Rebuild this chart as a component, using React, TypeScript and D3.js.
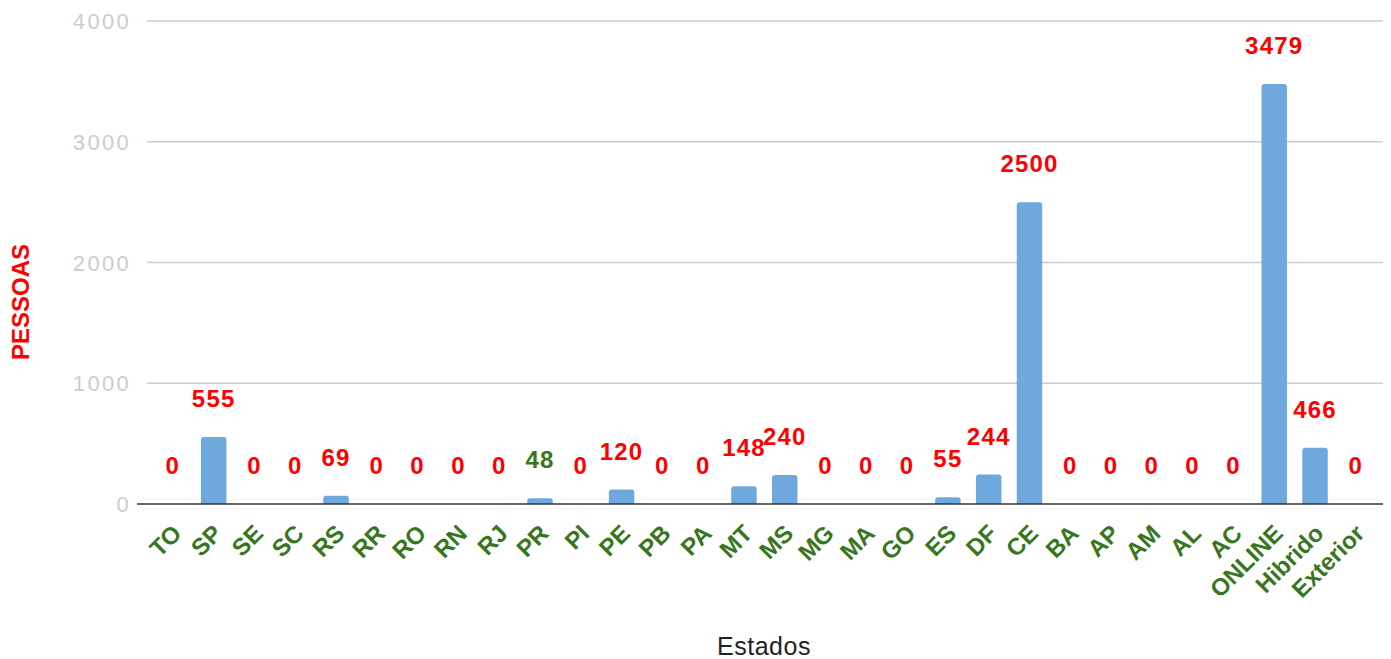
import { useRef, useEffect } from "react"
import * as d3 from "d3"

const categories = [
  "TO", "SP", "SE", "SC", "RS", "RR", "RO", "RN", "RJ", "PR", "PI", "PE", "PB", "PA", "MT",
  "MS", "MG", "MA", "GO", "ES", "DF", "CE", "BA", "AP", "AM", "AL", "AC", "ONLINE", "Hibrido", "Exterior",
]
const values = [
  0, 555, 0, 0, 69, 0, 0, 0, 0, 48, 0, 120, 0, 0, 148,
  240, 0, 0, 0, 55, 244, 2500, 0, 0, 0, 0, 0, 3479, 466, 0,
]
const yTicks = [0, 1000, 2000, 3000, 4000]
const greenLabels = ["PR"]

const W = 1391
const H = 659

const App = () => {
  const svgRef = useRef<SVGSVGElement>(null)

  useEffect(() => {
    const svg = d3.select(svgRef.current)
    svg.selectAll("*").remove()

    const x = d3
      .scaleBand<string>()
      .domain(categories)
      .range([152.5, 1376.2])
      .paddingInner(0.375)
      .paddingOuter(0.1875)
    const y = d3.scaleLinear().domain([0, 4000]).range([504, 21])

    // gridlines
    svg
      .append("g")
      .selectAll("line")
      .data(yTicks.filter((t) => t !== 0))
      .enter()
      .append("line")
      .attr("x1", 147)
      .attr("x2", 1383)
      .attr("y1", (d) => y(d))
      .attr("y2", (d) => y(d))
      .attr("stroke", "#cccccc")
      .attr("stroke-width", 1.5)

    // y tick labels
    svg
      .append("g")
      .selectAll("text")
      .data(yTicks)
      .enter()
      .append("text")
      .attr("x", 131)
      .attr("y", (d) => y(d) + 8)
      .attr("text-anchor", "end")
      .style("font-family", "'Liberation Sans', Arial, sans-serif")
      .style("font-size", "22px")
      .style("letter-spacing", "2.3px")
      .style("fill", "#cccccc")
      .text((d) => d)

    // bars with rounded tops
    const r = 3
    svg
      .append("g")
      .selectAll("path")
      .data(categories.filter((c, i) => values[i] > 0))
      .enter()
      .append("path")
      .attr("d", (c) => {
        const v = values[categories.indexOf(c)]
        const x0 = x(c)!
        const bw = x.bandwidth()
        const top = y(v)
        const bottom = y(0)
        const rr = Math.min(r, (bottom - top) / 2)
        return `M${x0},${bottom}V${top + rr}Q${x0},${top} ${x0 + rr},${top}H${x0 + bw - rr}Q${x0 + bw},${top} ${x0 + bw},${top + rr}V${bottom}Z`
      })
      .attr("fill", "#6fa8dc")

    // zero line
    svg
      .append("line")
      .attr("x1", 137)
      .attr("x2", 1383)
      .attr("y1", y(0))
      .attr("y2", y(0))
      .attr("stroke", "#333333")
      .attr("stroke-width", 1.5)

    // value labels
    svg
      .append("g")
      .selectAll("text")
      .data(categories)
      .enter()
      .append("text")
      .attr("x", (d) => x(d)! + x.bandwidth() / 2)
      .attr("y", (d, i) => y(values[i]) - 30)
      .attr("text-anchor", "middle")
      .style("font-family", "'Liberation Sans', Arial, sans-serif")
      .style("font-size", "24px")
      .style("font-weight", "bold")
      .style("letter-spacing", "1.2px")
      .style("fill", (d) => (greenLabels.includes(d) ? "#38761d" : "#ff0000"))
      .text((d, i) => values[i])

    // x axis labels
    svg
      .append("g")
      .selectAll("text")
      .data(categories)
      .enter()
      .append("text")
      .attr("transform", (d) => `translate(${x(d)! + x.bandwidth() / 2 + 10},535) rotate(-45)`)
      .attr("text-anchor", "end")
      .style("font-family", "'Liberation Sans', Arial, sans-serif")
      .style("font-size", "24px")
      .style("font-weight", "bold")
      .style("fill", "#38761d")
      .text((d) => d)

    // axis titles
    svg
      .append("text")
      .attr("transform", "translate(29,302) rotate(-90)")
      .attr("text-anchor", "middle")
      .style("font-family", "'Liberation Sans', Arial, sans-serif")
      .style("font-size", "24px")
      .style("font-weight", "bold")
      .style("fill", "#ff0000")
      .text("PESSOAS")

    svg
      .append("text")
      .attr("x", 764)
      .attr("y", 655)
      .attr("text-anchor", "middle")
      .style("font-family", "'Liberation Sans', Arial, sans-serif")
      .style("font-size", "25px")
      .style("letter-spacing", "0.5px")
      .style("fill", "#222222")
      .text("Estados")
  }, [])

  return (
    <div style={{ position: "absolute", left: 0, top: 0, background: "#fff" }}>
      <svg ref={svgRef} width={W} height={H}></svg>
    </div>
  )
}

export default App
